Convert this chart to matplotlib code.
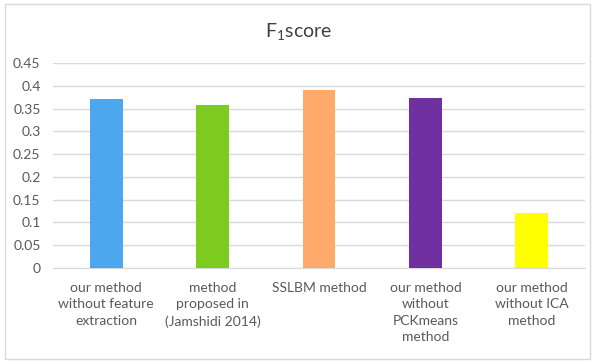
import matplotlib.pyplot as plt
from matplotlib.patches import Rectangle

plt.rcParams["font.family"] = ["Lato", "DejaVu Sans"]
plt.rcParams["mathtext.fontset"] = "custom"
plt.rcParams["mathtext.rm"] = "Lato"

# F1 score par méthode
methods = [
    "our method\nwithout feature\nextraction",
    "method\nproposed in\n(Jamshidi 2014)",
    "SSLBM method",
    "our method\nwithout\nPCKmeans\nmethod",
    "our method\nwithout ICA\nmethod",
]
f1_scores = [0.37, 0.357, 0.39, 0.373, 0.12]
bar_colors = ["#4DA7EE", "#7CCB1E", "#FFA96A", "#7030A0", "#FFFF00"]
y_ticks = [0, 0.05, 0.1, 0.15, 0.2, 0.25, 0.3, 0.35, 0.4, 0.45]
y_labels = ["0", "0.05", "0.1", "0.15", "0.2", "0.25", "0.3", "0.35", "0.4", "0.45"]

fig = plt.figure(figsize=(5.97, 3.62), dpi=100)
ax = fig.add_axes([53 / 597, 1 - 268 / 362, (585 - 53) / 597, (268 - 63) / 362])

ax.bar(range(len(methods)), f1_scores, width=0.31, color=bar_colors, zorder=3)

ax.set_xlim(-0.5, len(methods) - 0.5)
ax.set_ylim(0, 0.45)
ax.set_yticks(y_ticks)
ax.set_yticklabels(y_labels)
ax.set_xticks(range(len(methods)))
ax.set_xticklabels(methods, linespacing=1.45, va="top")
ax.tick_params(axis="both", length=0, labelsize=10, labelcolor="#595959")
ax.tick_params(axis="x", pad=10)
ax.tick_params(axis="y", pad=9)

ax.grid(axis="y", color="#D9D9D9", linewidth=1, zorder=0)
for side in ["top", "right", "left"]:
    ax.spines[side].set_visible(False)
ax.spines["bottom"].set_color("#D9D9D9")

fig.text(0.5, 1 - 31 / 362, r"$\mathregular{F_1}$score", ha="center", va="center",
         fontsize=14, color="#404040")

# cadre du graphique
fig.patches.append(Rectangle((5 / 597, 3 / 362), 585 / 597, 355 / 362,
                             transform=fig.transFigure, fill=False,
                             edgecolor="#D9D9D9", linewidth=1))

fig.savefig("out.png", dpi=100)
